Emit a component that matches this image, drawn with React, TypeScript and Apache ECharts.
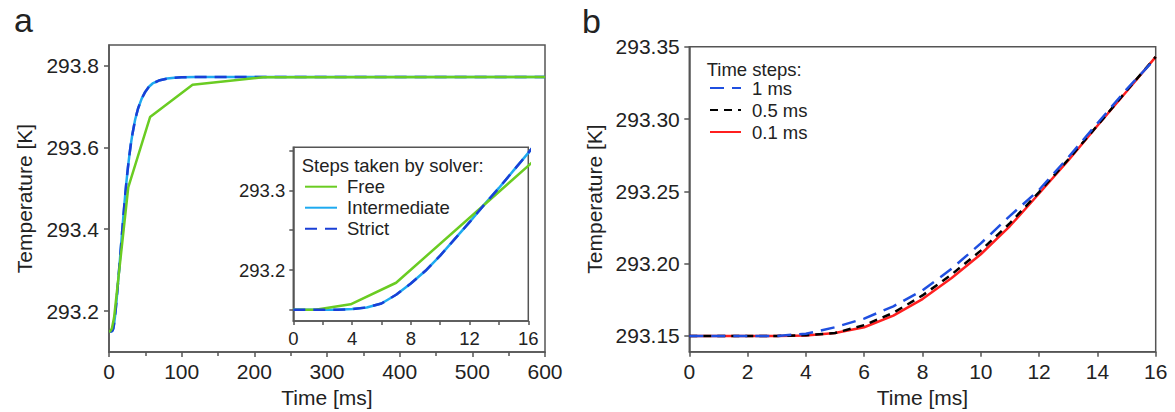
import React, { useEffect, useRef } from "react";
import * as echarts from "echarts";

// ---------- Panel a (main + inset) ----------
const strictT = [0, 1, 2, 3, 4, 5, 6, 7, 8, 9, 10, 11, 12, 13, 14, 15, 16, 18, 20, 22, 24, 26, 28, 30, 32, 36, 40, 45, 50, 55, 60, 70, 80, 90, 100, 120, 150, 200, 300, 400, 500, 600];
const strictV = [293.15, 293.15, 293.15, 293.15, 293.151, 293.153, 293.158, 293.169, 293.183, 293.199, 293.218, 293.239, 293.26, 293.282, 293.303, 293.325, 293.347, 293.392, 293.436, 293.478, 293.516, 293.55, 293.58, 293.607, 293.63, 293.668, 293.695, 293.719, 293.736, 293.748, 293.756, 293.764, 293.768, 293.77, 293.771, 293.772, 293.772, 293.772, 293.772, 293.772, 293.772, 293.772];
const intermediateV = [293.15, 293.15, 293.15, 293.15, 293.151, 293.153, 293.158, 293.169, 293.183, 293.199, 293.218, 293.239, 293.26, 293.282, 293.303, 293.325, 293.347, 293.392, 293.436, 293.478, 293.516, 293.55, 293.58, 293.607, 293.63, 293.668, 293.695, 293.719, 293.736, 293.748, 293.756, 293.764, 293.768, 293.77, 293.771, 293.772, 293.772, 293.772, 293.772, 293.772, 293.772, 293.772];
const freeT = [0, 1.5, 3.9, 7.0, 26.5, 56.5, 115, 212, 600];
const freeV = [293.15, 293.1502, 293.157, 293.184, 293.502, 293.674, 293.753, 293.771, 293.772];

const aYLabels = [293.2, 293.4, 293.6, 293.8];
const insetYLabels = [293.2, 293.3];
const insetYTicks = [293.15, 293.2, 293.25, 293.3, 293.35];
const legendA = ["Free", "Intermediate", "Strict"];

// ---------- Panel b ----------
const bT = [0, 1, 2, 3, 4, 5, 6, 7, 8, 9, 10, 11, 12, 13, 14, 15, 16];
const ms1V = [293.15, 293.15, 293.15, 293.15, 293.1515, 293.156, 293.162, 293.1705, 293.1815, 293.1965, 293.214, 293.233, 293.251, 293.2735, 293.297, 293.3205, 293.342];
const ms05V = [293.15, 293.15, 293.15, 293.15, 293.1505, 293.152, 293.1575, 293.166, 293.178, 293.1925, 293.209, 293.228, 293.2495, 293.272, 293.2955, 293.3195, 293.343];
const ms01V = [293.15, 293.15, 293.15, 293.15, 293.1503, 293.152, 293.156, 293.164, 293.1755, 293.19, 293.2065, 293.226, 293.2485, 293.2713, 293.2953, 293.319, 293.343];
const bYLabels = [293.15, 293.2, 293.25, 293.3, 293.35];
const legendB = ["1 ms", "0.5 ms", "0.1 ms"];

const FONT = "Liberation Sans";
const AX = "#555";
const TXT = "#222";

const zip = (xs: number[], ys: number[]) => xs.map((x, i) => [x, ys[i]]);

export default function App() {
  const ref = useRef<HTMLDivElement>(null);
  useEffect(() => {
    if (!ref.current) return;
    const chart = echarts.init(ref.current, undefined, { renderer: "svg" });

    const axisLine = { show: true, lineStyle: { color: AX, width: 1.5 } };
    const tick = (len: number) => ({ show: true, inside: false, length: len, lineStyle: { color: AX, width: 1.5 } });

    const green = "#6acc22";
    const sky = "#1eaaf0";
    const navy = "#1a3fd6";

    const seriesA = (xi: number, yi: number, z: number, greenOnTop: boolean) => {
      const inter = { name: "Intermediate", type: "line", xAxisIndex: xi, yAxisIndex: yi, z, data: zip(strictT, intermediateV), symbol: "none", lineStyle: { color: sky, width: 2.5 }, itemStyle: { color: sky } };
      const free = { name: "Free", type: "line", xAxisIndex: xi, yAxisIndex: yi, z, data: zip(freeT, freeV), symbol: "none", lineStyle: { color: green, width: 2.5 }, itemStyle: { color: green } };
      const strict = { name: "Strict", type: "line", xAxisIndex: xi, yAxisIndex: yi, z, data: zip(strictT, strictV), symbol: "none", lineStyle: { color: navy, width: 2.5, type: [12, 8] }, itemStyle: { color: navy } };
      return greenOnTop ? [inter, strict, free] : [inter, free, strict];
    };

    const legendCommon = {
      orient: "vertical",
      itemHeight: 14,
      itemGap: 0,
      padding: 0,
      z: 10,
      selectedMode: false,
      itemStyle: { opacity: 0 },
    };

    const option: any = {
      animation: false,
      textStyle: { fontFamily: FONT },
      grid: [
        { left: 109, top: 45, width: 436, height: 307, show: true, borderColor: AX, borderWidth: 1.5, backgroundColor: "transparent", z: 0 },
        { left: 293.3, top: 147.3, width: 235, height: 173.7, show: true, borderColor: AX, borderWidth: 1.5, backgroundColor: "#ffffff", z: 3 },
        { left: 689.3, top: 46.7, width: 466.4, height: 305, show: true, borderColor: AX, borderWidth: 1.5, backgroundColor: "transparent", z: 0 },
      ],
      xAxis: [
        { type: "value", gridIndex: 0, min: 0, max: 600, interval: 100, axisLine, axisTick: tick(5), minorTick: { show: true, splitNumber: 2, length: 4, lineStyle: { color: AX, width: 1.5 } }, splitLine: { show: false }, axisLabel: { color: TXT, fontSize: 21, margin: 9, fontFamily: FONT } },
        { type: "value", gridIndex: 1, min: 0, max: 16, interval: 4, z: 4, axisLine, axisTick: tick(4), minorTick: { show: true, splitNumber: 2, length: 4, lineStyle: { color: AX, width: 1.5 } }, splitLine: { show: false }, axisLabel: { color: TXT, fontSize: 18.5, margin: 8, fontFamily: FONT } },
        { type: "value", gridIndex: 2, min: 0, max: 16, interval: 2, axisLine, axisTick: tick(5), splitLine: { show: false }, axisLabel: { color: TXT, fontSize: 21, margin: 9, fontFamily: FONT } },
      ],
      yAxis: [
        { type: "value", gridIndex: 0, min: 293.1, max: 293.85, axisLine, axisTick: { ...tick(5), customValues: aYLabels }, splitLine: { show: false }, axisLabel: { color: TXT, fontSize: 21, margin: 10, fontFamily: FONT, customValues: aYLabels, formatter: (v: number) => v.toFixed(1) } },
        { type: "value", gridIndex: 1, min: 293.136, max: 293.354, z: 4, axisLine, axisTick: { ...tick(4), customValues: insetYTicks }, splitLine: { show: false }, axisLabel: { color: TXT, fontSize: 18.5, margin: 8, fontFamily: FONT, customValues: insetYLabels, formatter: (v: number) => v.toFixed(1) } },
        { type: "value", gridIndex: 2, min: 293.1391, max: 293.35, axisLine, axisTick: { ...tick(5), customValues: bYLabels }, splitLine: { show: false }, axisLabel: { color: TXT, fontSize: 21, margin: 9.5, fontFamily: FONT, customValues: bYLabels, formatter: (v: number) => v.toFixed(2) } },
      ],
      legend: [
        { ...legendCommon, data: legendA, left: 304, top: 176.2, itemWidth: 32, textStyle: { fontSize: 18.5, lineHeight: 21, color: TXT, fontFamily: FONT, padding: [0, 0, 0, 5] } },
        { ...legendCommon, data: legendB, left: 709, top: 77, itemWidth: 31, textStyle: { fontSize: 18.5, lineHeight: 22, color: TXT, fontFamily: FONT, padding: [0, 0, 0, 6] } },
      ],
      graphic: [
        { type: "text", x: 23.5, y: 20, z: 10, style: { text: "a", fontSize: 34, fontFamily: FONT, fill: TXT, align: "center", verticalAlign: "middle" } },
        { type: "text", x: 591.5, y: 20.5, z: 10, style: { text: "b", fontSize: 34, fontFamily: FONT, fill: TXT, align: "center", verticalAlign: "middle" } },
        { type: "text", x: 301.7, y: 165, z: 10, style: { text: "Steps taken by solver:", fontSize: 18.5, fontFamily: FONT, fill: TXT, align: "left", verticalAlign: "middle" } },
        { type: "text", x: 706.7, y: 69, z: 10, style: { text: "Time steps:", fontSize: 18.5, fontFamily: FONT, fill: TXT, align: "left", verticalAlign: "middle" } },
        { type: "text", x: 24, y: 198.5, rotation: Math.PI / 2, z: 10, style: { text: "Temperature [K]", fontSize: 21, fontFamily: FONT, fill: TXT, align: "center", verticalAlign: "middle" } },
        { type: "text", x: 594, y: 199, rotation: Math.PI / 2, z: 10, style: { text: "Temperature [K]", fontSize: 21, fontFamily: FONT, fill: TXT, align: "center", verticalAlign: "middle" } },
        { type: "text", x: 327, y: 397, z: 10, style: { text: "Time [ms]", fontSize: 21, fontFamily: FONT, fill: TXT, align: "center", verticalAlign: "middle" } },
        { type: "text", x: 922.5, y: 397, z: 10, style: { text: "Time [ms]", fontSize: 21, fontFamily: FONT, fill: TXT, align: "center", verticalAlign: "middle" } },
      ],
      series: [
        ...seriesA(0, 0, 2, true),
        ...seriesA(1, 1, 5, false),
        { name: "0.1 ms", type: "line", xAxisIndex: 2, yAxisIndex: 2, data: zip(bT, ms01V), symbol: "none", lineStyle: { color: "#ff1f1f", width: 2.5 }, itemStyle: { color: "#ff1f1f" } },
        { name: "0.5 ms", type: "line", xAxisIndex: 2, yAxisIndex: 2, data: zip(bT, ms05V), symbol: "none", lineStyle: { color: "#000000", width: 2.5, type: [8, 6] }, itemStyle: { color: "#000000" } },
        { name: "1 ms", type: "line", xAxisIndex: 2, yAxisIndex: 2, data: zip(bT, ms1V), symbol: "none", lineStyle: { color: "#1f4fe0", width: 2.5, type: [14, 8] }, itemStyle: { color: "#1f4fe0" } },
      ],
    };
    chart.setOption(option);
    return () => chart.dispose();
  }, []);
  return <div ref={ref} style={{ position: "absolute", left: 0, top: 0, width: 1175, height: 412 }} />;
}
